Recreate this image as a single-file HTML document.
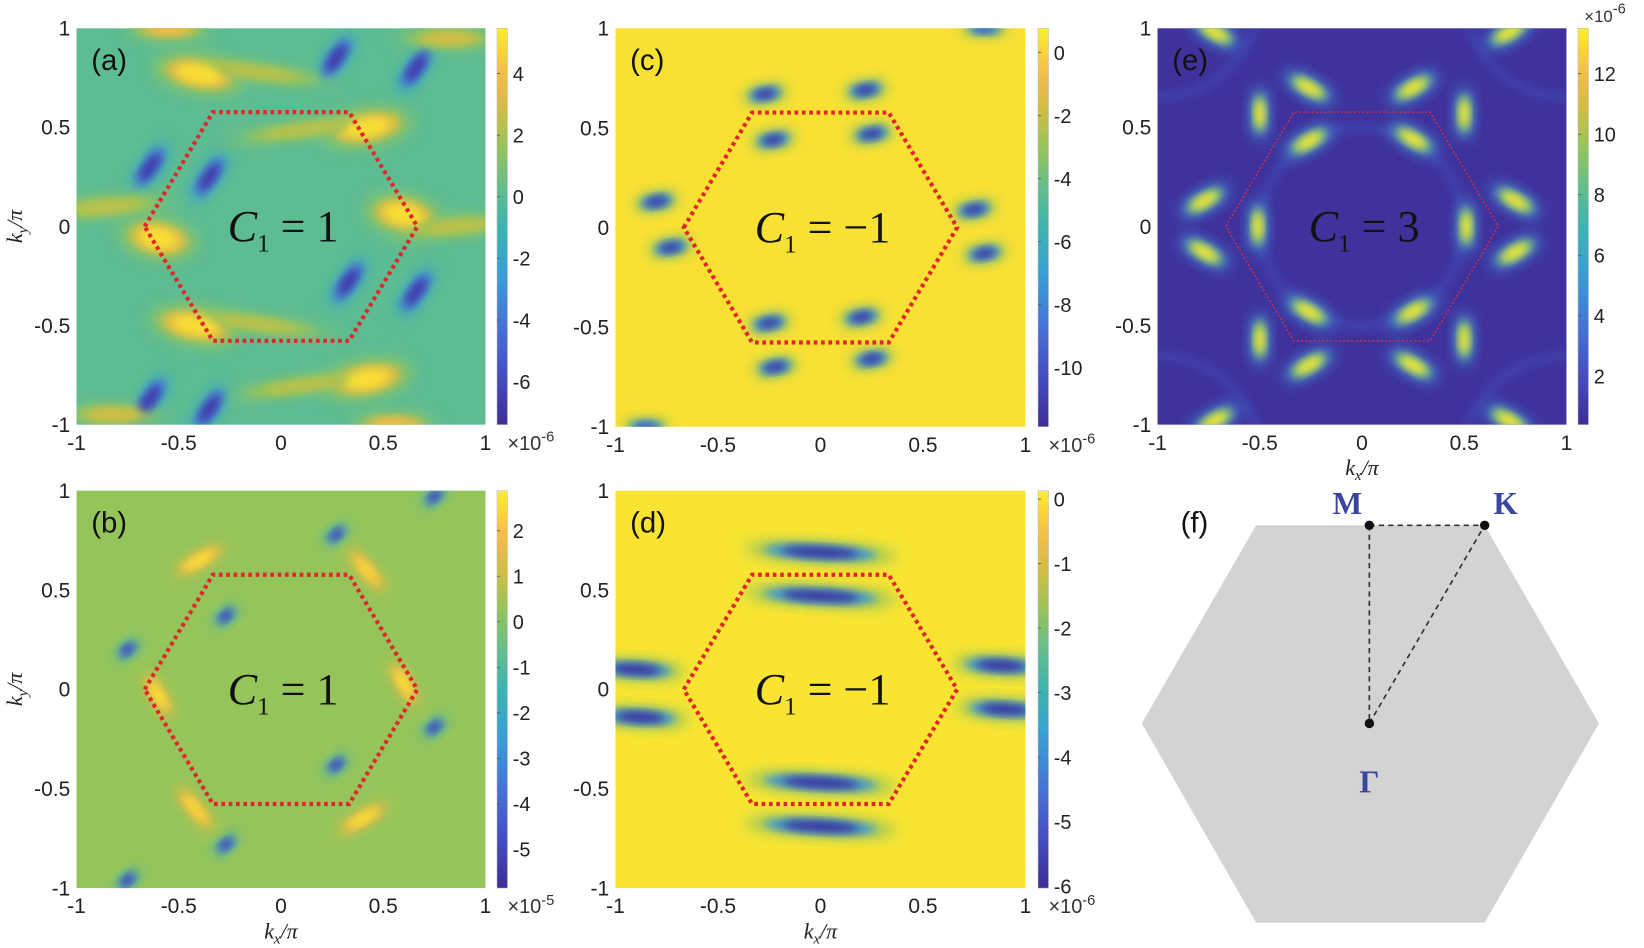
<!DOCTYPE html>
<html><head><meta charset="utf-8"><style>
html,body{margin:0;padding:0;background:#fff;width:1644px;height:948px;overflow:hidden}
.sans{font-family:"Liberation Sans",sans-serif}
.serif{font-family:"Liberation Serif",serif}
</style></head><body>
<svg id="fig" width="1644" height="948" viewBox="0 0 1644 948" xmlns="http://www.w3.org/2000/svg">
<defs>
<filter id="blur" x="-50%" y="-50%" width="200%" height="200%"><feGaussianBlur stdDeviation="4"/></filter>
<filter id="blur2" x="-50%" y="-50%" width="200%" height="200%"><feGaussianBlur stdDeviation="7"/></filter>
</defs>
<g id="root" transform="scale(1.0485)"></g>
</svg>
<script>
// ---------- data ----------
const panelIds = ["a","b","c","d","e"];
const chernLabels = ["1","1","\u22121","\u22121","3"];
const axisTicks = [-1,-0.5,0,0.5,1];
const axisTickLabels = ["-1","-0.5","0","0.5","1"];
const cbTicksA = [4,2,0,-2,-4,-6];
const cbTicksB = [2,1,0,-1,-2,-3,-4,-5];
const cbTicksC = [0,-2,-4,-6,-8,-10];
const cbTicksD = [0,-1,-2,-3,-4,-5,-6];
const cbTicksE = [12,10,8,6,4,2];
const cbRangeA = [-7.4,5.47];
const cbRangeB = [-5.85,2.88];
const cbRangeC = [-11.87,0.77];
const cbRangeD = [-6.03,0.13];
const cbRangeE = [0.4,13.5];
const cbExpA = "-6", cbExpB = "-5", cbExpC = "-6", cbExpD = "-6", cbExpE = "-6";
const bgValueA = 0.1, bgValueB = 0.25, bgValueC = 0.4, bgValueD = 0.0, bgValueE = 0.65;
// blobs: [kx, ky, value, halfLengthX, halfLengthY, angleDeg]
const blobsA = [
 [0.27,0.85,-7,0.085,0.03,55],[0.66,0.8,-7,0.085,0.03,55],[-0.64,0.3,-7,0.085,0.03,55],[-0.35,0.25,-7,0.085,0.03,55],
 [0.33,-0.28,-7,0.085,0.03,55],[0.66,-0.33,-7,0.085,0.03,55],[-0.64,-0.87,-7,0.085,0.03,55],[-0.35,-0.92,-7,0.085,0.03,55],
 [-0.4,0.77,5,0.13,0.055,-10],[-0.12,0.78,2.5,0.24,0.03,-8],[0.42,0.5,5,0.13,0.055,10],[0.12,0.49,2.5,0.24,0.03,8],
 [0.6,0.06,5,0.11,0.06,-10],[0.85,0.0,2.5,0.2,0.035,5],[-0.6,-0.06,5,0.11,0.06,-10],[-0.85,0.1,2.5,0.2,0.035,5],
 [-0.42,-0.5,5,0.13,0.055,-10],[-0.12,-0.49,2.5,0.24,0.03,-8],[0.42,-0.77,5,0.13,0.055,10],[0.12,-0.8,2.5,0.24,0.03,8],
 [-0.82,-0.95,3,0.15,0.035,0],[0.82,0.95,3,0.15,0.035,0],[-0.55,1.0,4,0.12,0.035,0],[0.55,-1.0,4,0.12,0.035,0]
];
const blobsB = [
 [0.27,0.78,-5.5,0.04,0.02,40],[0.75,0.97,-5.5,0.04,0.02,40],[-0.27,0.37,-5.5,0.04,0.02,40],[-0.75,0.2,-5.5,0.04,0.02,40],
 [0.75,-0.19,-5.5,0.04,0.02,40],[0.27,-0.38,-5.5,0.04,0.02,40],[-0.27,-0.78,-5.5,0.04,0.02,40],[-0.75,-0.96,-5.5,0.04,0.02,40],
 [-0.4,0.65,2.7,0.09,0.025,30],[0.42,0.6,2.5,0.09,0.025,-50],[0.6,0.03,2.7,0.08,0.025,-60],[-0.6,-0.03,2.7,0.08,0.025,-60],
 [-0.42,-0.6,2.5,0.09,0.025,-50],[0.4,-0.65,2.7,0.09,0.025,30]
];
const blobsC = [
 [-0.27,0.67,-11.5,0.065,0.028,10],[0.22,0.69,-11.5,0.065,0.028,10],[-0.23,0.44,-11.5,0.065,0.028,10],[0.25,0.47,-11.5,0.065,0.028,10],
 [-0.8,0.13,-11.5,0.065,0.028,10],[0.75,0.09,-11.5,0.065,0.028,10],[-0.73,-0.1,-11.5,0.065,0.028,10],[0.8,-0.13,-11.5,0.065,0.028,10],
 [-0.25,-0.48,-11.5,0.065,0.028,10],[0.2,-0.45,-11.5,0.065,0.028,10],[-0.22,-0.7,-11.5,0.065,0.028,10],[0.25,-0.66,-11.5,0.065,0.028,10],
 [0.8,1.0,-10,0.07,0.025,0],[-0.85,-1.0,-10,0.07,0.025,0]
];
const blobsD = [
 [0.0,0.69,-6,0.22,0.03,-3],[0.0,0.47,-6,0.22,0.03,-3],[0.0,-0.47,-6,0.22,0.03,-3],[0.0,-0.69,-6,0.22,0.03,-3],
 [-0.9,0.1,-6,0.14,0.03,-3],[-0.88,-0.14,-6,0.14,0.03,-3],[0.88,0.12,-6,0.14,0.03,-3],[0.9,-0.1,-6,0.14,0.03,-3]
];
const blobsE = [
 [-0.26,0.7,13.3,0.08,0.03,-30],[0.25,0.7,13.3,0.08,0.03,30],[-0.26,0.43,13.3,0.08,0.03,30],[0.25,0.44,13.3,0.08,0.03,-30],
 [-0.5,0.57,13.3,0.025,0.08,0],[0.5,0.57,13.3,0.025,0.08,0],[-0.51,0,13.3,0.025,0.08,0],[0.51,0,13.3,0.025,0.08,0],
 [-0.5,-0.57,13.3,0.025,0.08,0],[0.5,-0.57,13.3,0.025,0.08,0],
 [-0.77,0.13,13.3,0.08,0.03,30],[0.75,0.13,13.3,0.08,0.03,-30],[-0.77,-0.13,13.3,0.08,0.03,-30],[0.75,-0.13,13.3,0.08,0.03,30],
 [-0.26,-0.43,13.3,0.08,0.03,-30],[0.25,-0.43,13.3,0.08,0.03,30],[-0.26,-0.7,13.3,0.08,0.03,30],[0.25,-0.7,13.3,0.08,0.03,-30],
 [-0.72,0.98,13.3,0.08,0.03,-30],[0.72,0.98,13.3,0.08,0.03,30],[-0.72,-0.98,13.3,0.08,0.03,30],[0.72,-0.98,13.3,0.08,0.03,-30]
];
const panels = [
 {id:"a",x0:73,x1:463,y0:27,y1:405,cb:474,range:cbRangeA,ticks:cbTicksA,bg:bgValueA,blobs:blobsA,exp:cbExpA,xlab:false,ylab:true,hex:"dots"},
 {id:"b",x0:73,x1:463,y0:468,y1:847,cb:474,range:cbRangeB,ticks:cbTicksB,bg:bgValueB,blobs:blobsB,exp:cbExpB,xlab:true,ylab:true,hex:"dots"},
 {id:"c",x0:587,x1:978,y0:27,y1:407,cb:990,range:cbRangeC,ticks:cbTicksC,bg:bgValueC,blobs:blobsC,exp:cbExpC,xlab:false,ylab:false,hex:"dots"},
 {id:"d",x0:587,x1:978,y0:468,y1:847,cb:990,range:cbRangeD,ticks:cbTicksD,bg:bgValueD,blobs:blobsD,exp:cbExpD,xlab:true,ylab:false,hex:"dots"},
 {id:"e",x0:1104,x1:1494,y0:27,y1:405,cb:1505,range:cbRangeE,ticks:cbTicksE,bg:bgValueE,blobs:blobsE,exp:cbExpE,xlab:true,ylab:false,hex:"thin"}
];
// ---------- helpers ----------
const NS="http://www.w3.org/2000/svg";
const svg=document.getElementById("fig");
const root=document.getElementById("root");
function mk(tag,attrs,parent){const e=document.createElementNS(NS,tag);for(const k in attrs)e.setAttribute(k,attrs[k]);(parent||root).appendChild(e);return e;}
const P=[[62,45,150],[70,75,195],[70,115,215],[55,160,215],[60,180,175],[100,190,140],[150,196,90],[210,190,65],[245,185,75],[250,215,55],[248,240,45]];
const PS=[0,0.12,0.25,0.38,0.5,0.6,0.7,0.8,0.88,0.95,1];
function parula(t){t=Math.max(0,Math.min(1,t));for(let i=1;i<PS.length;i++){if(t<=PS[i]){const f=(t-PS[i-1])/(PS[i]-PS[i-1]);const a=P[i-1],b=P[i];return `rgb(${Math.round(a[0]+(b[0]-a[0])*f)},${Math.round(a[1]+(b[1]-a[1])*f)},${Math.round(a[2]+(b[2]-a[2])*f)})`;}}return "rgb(248,240,45)";}
const hexK=[[-2/3,0],[-1/3,0.577],[1/3,0.577],[2/3,0],[1/3,-0.577],[-1/3,-0.577]];

panels.forEach((p,idx)=>{
 const sx=v=>p.x0+(v+1)/2*(p.x1-p.x0);
 const sy=v=>p.y1-(v+1)/2*(p.y1-p.y0);
 const cmap=v=>parula((v-p.range[0])/(p.range[1]-p.range[0]));
 const g=mk("g",{});
 
 
 const cp=mk("clipPath",{id:"clip"+p.id},g);
 mk("rect",{x:p.x0,y:p.y0,width:p.x1-p.x0,height:p.y1-p.y0},cp);
 const bg=mk("rect",{x:p.x0,y:p.y0,width:p.x1-p.x0,height:p.y1-p.y0,fill:cmap(p.bg)},g);
 
 
 const hg=mk("g",{"clip-path":"url(#clip"+p.id+")"},g);
 
 
 if(p.id==="e"){
  [[0,0,0.5],[-1,1.154,0.5],[1,-1.154,0.5],[-1,-1.154,0.5],[1,1.154,0.5]].forEach(r=>{
   const ring=mk("ellipse",{cx:sx(r[0]),cy:sy(r[1]),rx:r[2]*(p.x1-p.x0)/2,ry:r[2]*(p.y1-p.y0)/2,fill:"none",stroke:cmap(3),"stroke-width":8,opacity:0.35,filter:"url(#blur)"},hg);
   
   
  });
 }
 const layers=[[1.7,0.3,"url(#blur2)"],[1.25,0.65,"url(#blur)"],[0.85,1.0,"url(#blur)"]];
 layers.forEach(L=>{
  p.blobs.forEach(b=>{
   const v=p.bg+(b[2]-p.bg)*L[1];
   const e=mk("ellipse",{cx:sx(b[0]),cy:sy(b[1]),rx:b[3]*L[0]*(p.x1-p.x0)/2,ry:b[4]*L[0]*(p.y1-p.y0)/2,fill:cmap(v),filter:L[2],transform:`rotate(${-b[5]} ${sx(b[0])} ${sy(b[1])})`},hg);
   
   
  });
 });
 const hx=mk("polygon",{points:hexK.map(q=>sx(q[0])+","+sy(q[1])).join(" "),fill:"none",stroke:p.hex==="dots"?"#e0262a":"#e0303a","stroke-width":p.hex==="dots"?4:1.2,"stroke-dasharray":p.hex==="dots"?"3.5 3.5":"2 2"},g);
 
 
 axisTicks.forEach((t,i)=>{
  const yl=mk("text",{class:"sans",x:p.x0-6,y:sy(t)+7,"text-anchor":"end","font-size":20,fill:"#222"},g);
  yl.textContent=axisTickLabels[i];
  
  
  const xl=mk("text",{class:"sans",x:sx(t),y:p.y1+24,"text-anchor":"middle","font-size":20,fill:"#222"},g);
  xl.textContent=axisTickLabels[i];
  
  
 });
 const lab=mk("text",{class:"sans",x:p.x0+14,y:p.y0+40,"font-size":28,fill:"#111"},g);
 lab.textContent="("+p.id+")";
 
 
 const ch=mk("text",{class:"serif",x:(p.x0+p.x1)/2+2,y:(p.y0+p.y1)/2+14,"text-anchor":"middle","font-size":42,fill:"#111"},g);
 ch.innerHTML='<tspan font-style="italic">C</tspan><tspan font-size="24" dy="10">1</tspan><tspan dy="-10"> = '+chernLabels[idx]+'</tspan>';
 
 
 if(p.ylab){
  const yt=mk("text",{class:"serif",transform:`translate(${p.x0-52},${(p.y0+p.y1)/2}) rotate(-90)`,"text-anchor":"middle","font-size":21,"font-style":"italic",fill:"#222"},g);
  yt.innerHTML='k<tspan font-size="14" dy="5">y</tspan><tspan dy="-5">/π</tspan>';
  
  
 }
 if(p.xlab){
  const xt=mk("text",{class:"serif",x:(p.x0+p.x1)/2,y:p.y1+48,"text-anchor":"middle","font-size":21,"font-style":"italic",fill:"#222"},g);
  xt.innerHTML='k<tspan font-size="14" dy="5">x</tspan><tspan dy="-5">/π</tspan>';
  
  
 }
 const gid="cbg"+p.id;
 const lg=mk("linearGradient",{id:gid,x1:0,y1:1,x2:0,y2:0},svg.querySelector("defs"));
 for(let i=0;i<=20;i++){mk("stop",{offset:i/20,"stop-color":parula(i/20)},lg);}
 const cb=mk("rect",{x:p.cb,y:p.y0,width:10,height:p.y1-p.y0,fill:`url(#${gid})`,stroke:"#bbb","stroke-width":0.5},g);
 
 
 const cy=v=>p.y1-(v-p.range[0])/(p.range[1]-p.range[0])*(p.y1-p.y0);
 p.ticks.forEach(t=>{
  mk("line",{x1:p.cb,x2:p.cb+3,y1:cy(t),y2:cy(t),stroke:"#555","stroke-width":0.8},g);
  const tl=mk("text",{class:"sans",x:p.cb+15,y:cy(t)+7,"font-size":19,fill:"#222"},g);
  tl.textContent=String(t);
  
  
 });
 const ex=mk("text",p.id==="e"?{class:"sans",x:p.cb+6,y:p.y0-6,"font-size":16,fill:"#333"}:{class:"sans",x:p.cb+10,y:p.y1+24,"font-size":19,fill:"#333"},g);
 ex.innerHTML='×10<tspan font-size="14" dy="-8">'+p.exp+'</tspan>';
 
 
});

// panel f
const fg=mk("g",{});


const hexF=mk("polygon",{points:"1089,690 1198,501 1416,501 1525,690 1416,880 1198,880",fill:"#d3d3d3"},fg);


[[1306,501,1416,501],[1306,501,1306,690],[1306,690,1416,501]].forEach(l=>{
 const ln=mk("line",{x1:l[0],y1:l[1],x2:l[2],y2:l[3],stroke:"#333","stroke-width":1.6,"stroke-dasharray":"5 4"},fg);
 
 
});
[[1306,501],[1416,501],[1306,690]].forEach(c=>{
 const pt=mk("circle",{cx:c[0],cy:c[1],r:4.5,fill:"#111"},fg);
 
 
});
[["M",1285,490],["K",1436,490],["Γ",1306,756]].forEach(t=>{
 const tx=mk("text",{class:"serif",x:t[1],y:t[2],"text-anchor":"middle","font-size":30,"font-weight":"bold",fill:"#3a45a0"},fg);
 tx.textContent=t[0];
 
 
});
const fl=mk("text",{class:"sans",x:1126,y:508,"font-size":28,fill:"#111"},fg);
fl.textContent="(f)";


</script>
</body></html>
